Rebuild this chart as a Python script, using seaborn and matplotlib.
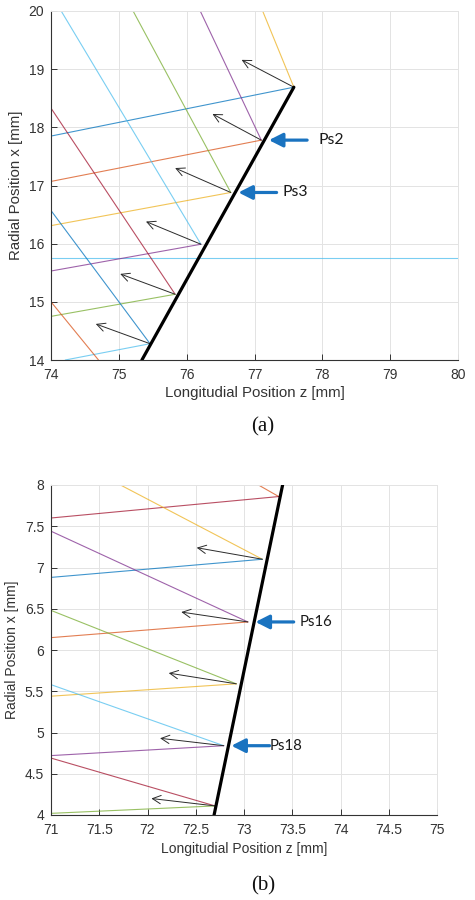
import matplotlib
matplotlib.use("Agg")
import numpy as np
import pandas as pd
import matplotlib.pyplot as plt
from matplotlib.patches import FancyArrowPatch
import seaborn as sns

# ---------------- Panel (a) data ----------------
a_wall_z = [75.34, 77.58]
a_wall_x = [14.0, 18.69]
a_hit_z = [77.58, 77.10, 76.65, 76.21, 75.83, 75.46]
a_hit_x = [18.69, 17.78, 16.88, 15.99, 15.13, 14.28]
a_in_z = [77.12, 76.20, 75.21, 74.15, 74.00, 74.00]
a_in_x = [20.00, 20.00, 20.00, 20.00, 18.33, 16.57]
a_out_z = [74.00, 74.00, 74.00, 74.00, 74.00, 74.21]
a_out_x = [17.85, 17.07, 16.31, 15.53, 14.75, 14.00]
a_tip_z = [76.81, 76.38, 75.83, 75.40, 75.02, 74.66]
a_tip_x = [19.16, 18.23, 17.30, 16.38, 15.48, 14.62]
a_extra_z = [74.00, 74.70]
a_extra_x = [15.00, 14.00]
a_level = 15.76
a_labels = ["Ps2", "Ps3"]
a_label_hit = [1, 2]
a_xticks = [74, 75, 76, 77, 78, 79, 80]
a_yticks = [14, 15, 16, 17, 18, 19, 20]
a_xticklabels = ["74", "75", "76", "77", "78", "79", "80"]
a_yticklabels = ["14", "15", "16", "17", "18", "19", "20"]

# ---------------- Panel (b) data ----------------
b_wall_z = [72.69, 73.40]
b_wall_x = [4.0, 8.0]
b_hit_z = [73.36, 73.19, 73.04, 72.92, 72.79, 72.70]
b_hit_x = [7.86, 7.10, 6.34, 5.59, 4.84, 4.11]
b_in_z = [73.15, 71.72, 71.00, 71.00, 71.00, 71.00]
b_in_x = [8.00, 8.00, 7.44, 6.48, 5.58, 4.69]
b_out_z = [71.00, 71.00, 71.00, 71.00, 71.00, 71.00]
b_out_x = [7.60, 6.88, 6.15, 5.44, 4.72, 4.02]
b_tip_z = [np.nan, 72.51, 72.35, 72.22, 72.13, 72.04]
b_tip_x = [np.nan, 7.24, 6.46, 5.72, 4.93, 4.20]
b_labels = ["Ps16", "Ps18"]
b_label_hit = [2, 4]
b_xticks = [71, 71.5, 72, 72.5, 73, 73.5, 74, 74.5, 75]
b_yticks = [4, 4.5, 5, 5.5, 6, 6.5, 7, 7.5, 8]
b_xticklabels = ["71", "71.5", "72", "72.5", "73", "73.5", "74", "74.5", "75"]
b_yticklabels = ["4", "4.5", "5", "5.5", "6", "6.5", "7", "7.5", "8"]

xlabel = "Longitudial Position z [mm]"
ylabel = "Radial Position x [mm]"

# ---------------- styles ----------------
C = dict(blue="#0072BD", orange="#D95319", yellow="#EDB120", purple="#7E2F8E",
         green="#77AC30", cyan="#4DBEEE", red="#A2142F")
a_in_col = ["yellow", "purple", "green", "cyan", "red", "blue"]
a_out_col = ["blue", "orange", "yellow", "purple", "green", "cyan"]
b_in_col = ["orange", "yellow", "purple", "green", "cyan", "red"]
b_out_col = ["red", "blue", "orange", "yellow", "purple", "green"]

sns.set_theme(style="white")
plt.rcParams['font.family'] = ['Liberation Sans', 'DejaVu Sans']

fig = plt.figure(figsize=(4.75, 9), dpi=100)
ax_a = fig.add_axes([51/475, 1-360/900, (458-51)/475, (360-11)/900])
ax_b = fig.add_axes([51/475, 1-815/900, (437-51)/475, (815-485)/900])


def seg(ax, z, x, color, lw=0.8, alpha=0.75):
    sns.lineplot(x=list(z), y=list(x), ax=ax, color=color, lw=lw, alpha=alpha,
                 sort=False, estimator=None, legend=False)


def style_axes(ax, xlim, ylim, xt, yt, xtl, ytl, tfs, lfs, xlp, ylp):
    ax.set_xlim(*xlim)
    ax.set_ylim(*ylim)
    ax.set_xticks(xt)
    ax.set_yticks(yt)
    ax.set_xticklabels(xtl)
    ax.set_yticklabels(ytl)
    ax.grid(True, color="#e3e3e3", lw=0.7)
    ax.set_axisbelow(True)
    for s in ["left", "bottom"]:
        ax.spines[s].set_color("#333333")
        ax.spines[s].set_linewidth(0.8)
    for s in ["top", "right"]:
        ax.spines[s].set_color("#e3e3e3")
        ax.spines[s].set_linewidth(0.7)
    ax.tick_params(axis="both", direction="in", length=4, width=0.7, color="#333333",
                   labelsize=tfs, labelcolor="#333333", bottom=True, left=True)
    ax.tick_params(axis="x", pad=6)
    ax.tick_params(axis="y", pad=5)
    ax.set_xlabel(xlabel, fontsize=lfs, color="#333333", labelpad=xlp)
    ax.set_ylabel(ylabel, fontsize=lfs, color="#333333", labelpad=ylp)


def black_arrow(ax, z0, x0, z1, x1):
    if np.isnan(z1):
        return
    p = FancyArrowPatch((z0, x0), (z1, x1), arrowstyle="->,head_length=0.6,head_width=0.3",
                        mutation_scale=10, color="#2b2b2b", lw=0.7, zorder=4,
                        shrinkA=0, shrinkB=0)
    ax.add_patch(p)


def blue_label(ax, z, x, text, fs, text_dx):
    ax.annotate("", xy=(z, x), xycoords="data",
                xytext=(33, 0), textcoords="offset points",
                arrowprops=dict(arrowstyle="-|>,head_length=0.75,head_width=0.38",
                                color="#1a73c0", lw=2.3, shrinkA=0, shrinkB=5.5,
                                mutation_scale=11),
                zorder=6)
    ax.annotate(text, xy=(z, x), xycoords="data", xytext=(text_dx, 0),
                textcoords="offset points", fontsize=fs, family=["Lato", "DejaVu Sans"],
                color="#1a1a1a", va="center", ha="left", zorder=6)


# ---------------- Panel (a) ----------------
ax = ax_a
ax.axhline(a_level, color=C["cyan"], lw=0.8, alpha=0.75)
for i in range(len(a_hit_z)):
    seg(ax, [a_in_z[i], a_hit_z[i]], [a_in_x[i], a_hit_x[i]], C[a_in_col[i]])
    seg(ax, [a_hit_z[i], a_out_z[i]], [a_hit_x[i], a_out_x[i]], C[a_out_col[i]])
seg(ax, a_extra_z, a_extra_x, C["orange"])
for i in range(len(a_hit_z)):
    black_arrow(ax, a_hit_z[i], a_hit_x[i], a_tip_z[i], a_tip_x[i])
sns.lineplot(x=a_wall_z, y=a_wall_x, ax=ax, color="black", lw=2.3, sort=False,
             estimator=None, legend=False, zorder=5)
style_axes(ax, (74, 80), (14, 20), a_xticks, a_yticks, a_xticklabels, a_yticklabels,
           10, 10.8, 3, 4)
for lab, k, dx in zip(a_labels, a_label_hit, [41, 37]):
    blue_label(ax, a_hit_z[k], a_hit_x[k], lab, 11.3, dx)

# ---------------- Panel (b) ----------------
ax = ax_b
for i in range(len(b_hit_z)):
    seg(ax, [b_in_z[i], b_hit_z[i]], [b_in_x[i], b_hit_x[i]], C[b_in_col[i]])
    seg(ax, [b_hit_z[i], b_out_z[i]], [b_hit_x[i], b_out_x[i]], C[b_out_col[i]])
for i in range(len(b_hit_z)):
    black_arrow(ax, b_hit_z[i], b_hit_x[i], b_tip_z[i], b_tip_x[i])
sns.lineplot(x=b_wall_z, y=b_wall_x, ax=ax, color="black", lw=2.3, sort=False,
             estimator=None, legend=False, zorder=5)
style_axes(ax, (71, 75), (4, 8), b_xticks, b_yticks, b_xticklabels, b_yticklabels,
           10, 10, 3, 4)
for lab, k, dx in zip(b_labels, b_label_hit, [37, 33]):
    blue_label(ax, b_hit_z[k], b_hit_x[k], lab, 10.7, dx)

# captions
fig.text(263/475, 1-427/900, "(a)", ha="center", va="center", fontsize=15,
         family=["Liberation Serif", "DejaVu Serif"], color="#111111")
fig.text(263/475, 1-886/900, "(b)", ha="center", va="center", fontsize=15,
         family=["Liberation Serif", "DejaVu Serif"], color="#111111")

fig.savefig("out.png", dpi=100)
